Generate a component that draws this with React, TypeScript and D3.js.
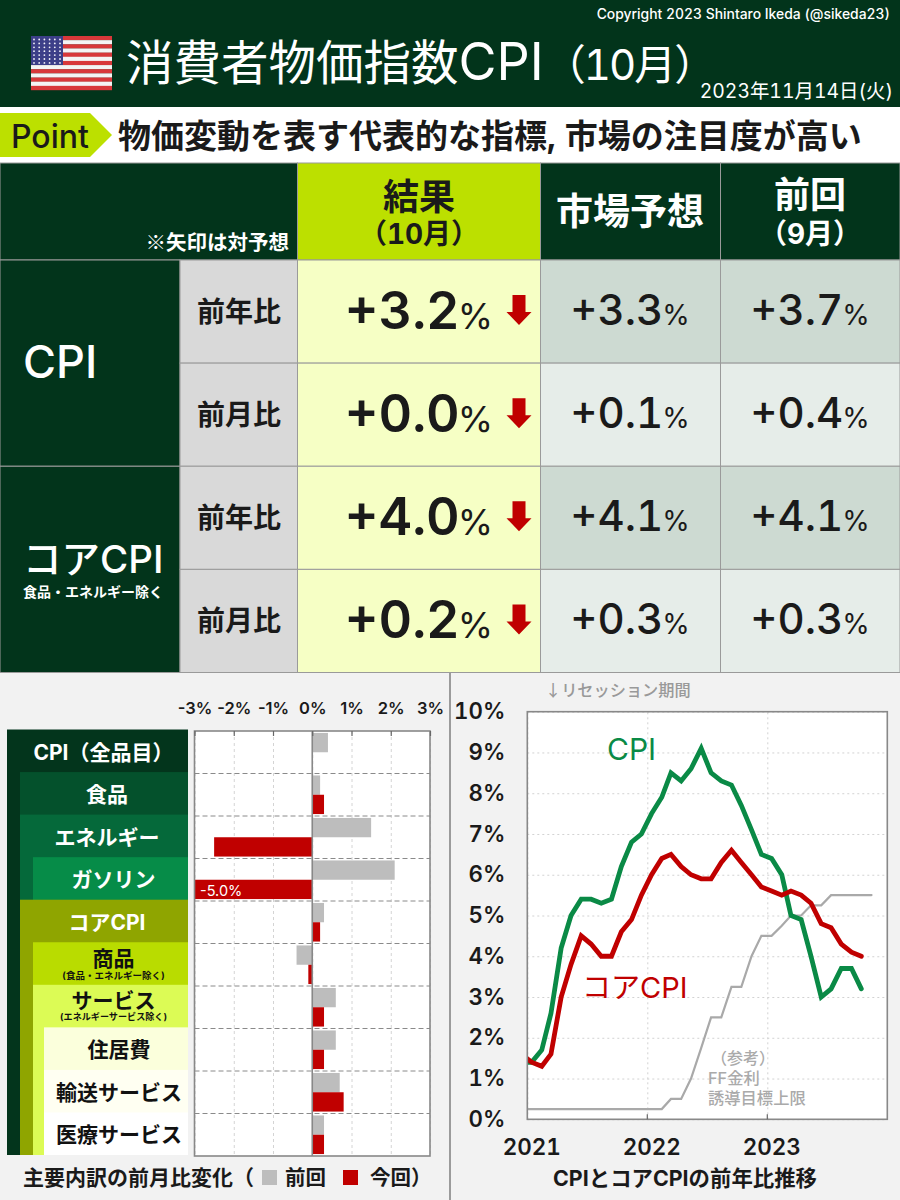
import * as d3 from "d3";
import { useEffect, useRef } from "react";

const FONT = 'Inter, "Noto Sans CJK JP", sans-serif';
const CJK = '"Noto Sans CJK JP", sans-serif';
const DARK = "#02341b";
const INK = "#1a1a1a";

// top table
const groupNames = ["CPI", "コアCPI"];
const metricNames = ["前年比", "前月比", "前年比", "前月比"];
const resultValues = [3.2, 0.0, 4.0, 0.2];
const forecastValues = [3.3, 0.1, 4.1, 0.3];
const previousValues = [3.7, 0.4, 4.1, 0.3];

// breakdown bars
const itemNames = ["CPI（全品目）", "食品", "エネルギー", "ガソリン", "コアCPI", "商品", "サービス", "住居費", "輸送サービス", "医療サービス"];
const itemNotes = ["", "", "", "", "", "(食品・エネルギー除く)", "(エネルギーサービス除く)", "", "", ""];
const prevChange = [0.4, 0.2, 1.5, 2.1, 0.3, -0.4, 0.6, 0.6, 0.7, 0.3];
const nowChange = [0.0, 0.3, -2.5, -5.0, 0.2, -0.1, 0.3, 0.3, 0.8, 0.3];
const pctTicks = [-3, -2, -1, 0, 1, 2, 3];

const itemFills = ["#03351c", "#04512c", "#05693a", "#068c48", "#8fa500", "#b9dc00", "#dcfb55", "#fbffdc", "#fffff2", "#ffffff"];
const itemLeft = [7, 20, 20, 33, 20, 33, 33, 44, 44, 44];

// monthly series from Dec 2020
const cpiYoY = [1.4, 1.4, 1.7, 2.6, 4.2, 5.0, 5.4, 5.4, 5.3, 5.4, 6.2, 6.8, 7.0, 7.5, 7.9, 8.5, 8.3, 8.6, 9.1, 8.5, 8.3, 8.2, 7.7, 7.1, 6.5, 6.4, 6.0, 5.0, 4.9, 4.0, 3.0, 3.2, 3.7, 3.7, 3.2];
const coreYoY = [1.6, 1.4, 1.3, 1.6, 3.0, 3.8, 4.5, 4.3, 4.0, 4.0, 4.6, 4.9, 5.5, 6.0, 6.4, 6.5, 6.2, 6.0, 5.9, 5.9, 6.3, 6.6, 6.3, 6.0, 5.7, 5.6, 5.5, 5.6, 5.5, 5.3, 4.8, 4.7, 4.3, 4.1, 4.0];
const ffUpper = [0.25, 0.25, 0.25, 0.25, 0.25, 0.25, 0.25, 0.25, 0.25, 0.25, 0.25, 0.25, 0.25, 0.25, 0.25, 0.5, 0.5, 1.0, 1.75, 2.5, 2.5, 3.25, 3.25, 4.0, 4.5, 4.5, 4.75, 5.0, 5.0, 5.25, 5.25, 5.5, 5.5, 5.5, 5.5, 5.5];
const yearTicks = [new Date(2021, 0, 1), new Date(2022, 0, 1), new Date(2023, 0, 1)];

export default function App() {
  const ref = useRef<SVGSVGElement>(null);

  useEffect(() => {
    if (!ref.current) return;
    const svg = d3.select(ref.current);
    svg.selectAll("*").remove();

    const label = (sel: any, x: number, y: number, str: string, size: number, fill: string, weight = 700, anchor = "start") =>
      sel
        .append("text")
        .attr("x", x)
        .attr("y", y)
        .attr("font-size", size)
        .attr("font-weight", weight)
        .attr("fill", fill)
        .attr("text-anchor", anchor)
        .text(str);

    // Header
    svg.append("rect").attr("width", 900).attr("height", 107).attr("fill", DARK);
    svg.append("rect").attr("y", 107).attr("width", 900).attr("height", 56).attr("fill", "#fff");
    label(svg, 890, 19, "Copyright 2023 Shintaro Ikeda (@sikeda23)", 13.9, "#fff", 500, "end");
    const title = label(svg, 126, 80, "消費者物価指数", 47.5, "#fff", 400);
    title.append("tspan").attr("font-size", 52).text("CPI");
    title.append("tspan").attr("font-size", 42).attr("letter-spacing", -2).text("（10月）");
    label(svg, 893, 98, "2023年11月14日(火)", 19.4, "#fff", 400, "end");

    // Flag
    const flag = svg.append("g");
    const stripe = d3.scaleBand<number>().domain(d3.range(13)).range([36, 90]);
    flag
      .selectAll("rect")
      .data(d3.range(13))
      .join("rect")
      .attr("x", 31)
      .attr("y", d => stripe(d)!)
      .attr("width", 81)
      .attr("height", stripe.bandwidth() + 0.2)
      .attr("fill", d => (d % 2 === 0 ? "#d8383a" : "#f4f4f4"));
    flag.append("rect").attr("x", 31).attr("y", 36).attr("width", 32).attr("height", 29).attr("fill", "#3c3f88");
    flag
      .selectAll("circle")
      .data(d3.cross(d3.range(7), d3.range(6)))
      .join("circle")
      .attr("cx", d => 34 + d[1] * 5.2)
      .attr("cy", d => 39.5 + d[0] * 3.9)
      .attr("r", 0.9)
      .attr("fill", "#f2f2f8");

    // Point strip
    svg.append("polygon").attr("points", "0,113 90,113 112,135 90,157 0,157").attr("fill", "#bce000");
    label(svg, 11, 148, "Point", 32, INK, 500);
    label(svg, 118, 148, "物価変動を表す代表的な指標, 市場の注目度が高い", 33, INK, 700);

    // Table
    const colX = [0, 180, 297.5, 540.5, 720.5, 900];
    const rowY = d3.scaleBand<number>().domain(d3.range(4)).range([260, 672.5]);
    const bw = rowY.bandwidth();
    const lineC = "#9a9a9a";
    const cell = (x0: number, y0: number, x1: number, y1: number, fill: string) =>
      svg
        .append("rect")
        .attr("x", x0)
        .attr("y", y0)
        .attr("width", x1 - x0)
        .attr("height", y1 - y0)
        .attr("fill", fill)
        .attr("stroke", lineC)
        .attr("stroke-width", 1);

    cell(0, 163, colX[2], 260, DARK);
    cell(colX[2], 163, colX[3], 260, "#bce000");
    cell(colX[3], 163, colX[4], 260, DARK);
    cell(colX[4], 163, colX[5], 260, DARK);
    label(svg, 289, 250, "※矢印は対予想", 20.5, "#fff", 700, "end").attr("font-family", CJK);
    label(svg, 419, 210, "結果", 36, INK, 700, "middle");
    label(svg, 419, 244, "（10月）", 28, INK, 700, "middle");
    label(svg, 630, 225, "市場予想", 37, "#fff", 700, "middle");
    label(svg, 810, 208, "前回", 36, "#fff", 700, "middle");
    label(svg, 810, 244, "（9月）", 28, "#fff", 700, "middle");

    groupNames.forEach((_, i) => {
      cell(0, rowY(i * 2)!, colX[1], rowY(i * 2)! + bw * 2, DARK);
    });
    label(svg, 23, 378, groupNames[0], 45, "#fff", 500);
    label(svg, 23, 573, groupNames[1], 38.5, "#fff", 500);
    label(svg, 23, 597, "食品・エネルギー除く", 14, "#fff", 700);

    const fmt = d3.format("+.1f");
    const value = (cx: number, y: number, v: number, big: number, small: number, weight: number, gap: number) => {
      const t = svg
        .append("text")
        .attr("x", cx)
        .attr("y", y)
        .attr("fill", INK)
        .attr("text-anchor", "middle")
        .attr("font-size", big)
        .attr("font-weight", weight)
        .text(fmt(v));
      t.append("tspan").attr("font-size", small).attr("font-weight", 400).attr("dx", gap).text("%");
    };

    metricNames.forEach((m, i) => {
      const y = rowY(i)!;
      const shade = i % 2 === 0 ? "#cddad2" : "#e6ede9";
      cell(colX[1], y, colX[2], y + bw, "#d9d9d9");
      cell(colX[2], y, colX[3], y + bw, "#f6ffc5");
      cell(colX[3], y, colX[4], y + bw, shade);
      cell(colX[4], y, colX[5], y + bw, shade);
      label(svg, 239, y + 62, m, 28, INK, 700, "middle");
      value(419, y + 69, resultValues[i], 52, 36, 600, -2);
      value(630, y + 65, forecastValues[i], 42, 28, 500, -1);
      value(810, y + 65, previousValues[i], 42, 28, 500, -1);
      if (resultValues[i] < forecastValues[i]) {
        svg
          .append("path")
          .attr("transform", `translate(519,${y + 35})`)
          .attr("d", "M-6.5,0H6.5V17H12.5L0,30L-12.5,17H-6.5Z")
          .attr("fill", "#c00000");
      }
    });

    // Bottom panels
    svg.append("rect").attr("y", 673).attr("width", 900).attr("height", 527).attr("fill", "#f2f2f2");
    svg.append("line").attr("x1", 450).attr("x2", 450).attr("y1", 673).attr("y2", 1200).attr("stroke", "#444").attr("stroke-width", 1);

    // Breakdown label blocks
    const blockY = d3.scaleBand<number>().domain(d3.range(10)).range([729.5, 1155]);
    svg
      .append("g")
      .selectAll("rect")
      .data(itemNames.map((_, i) => i))
      .join("rect")
      .attr("x", i => itemLeft[i])
      .attr("y", i => blockY(i)!)
      .attr("width", i => 188 - itemLeft[i])
      .attr("height", i => 1155 - blockY(i)!)
      .attr("fill", i => itemFills[i]);
    itemNames.forEach((name, i) => {
      const cx = (itemLeft[i] + 188) / 2 + (i === 0 ? 6 : 3);
      const y = blockY(i)!;
      const color = i < 5 ? "#fff" : "#111";
      const note = itemNotes[i];
      label(svg, cx, y + (note ? (i === 6 ? 23 : 24) : 30), name, 21, color, 700, "middle");
      if (note) label(svg, cx, y + (i === 6 ? 35 : 37), note, i === 6 ? 9.1 : 9.5, color, 700, "middle");
    });

    // Breakdown bars
    const bx = d3.scaleLinear().domain([-3, 3]).range([194.5, 430]).clamp(true);
    const by = d3.scaleBand<number>().domain(d3.range(10)).range([731, 1156]);
    const inner = d3.scaleBand<string>().domain(["prev", "now"]).range([0, by.bandwidth()]).paddingOuter(0.1).paddingInner(0);

    const barPlot = svg.append("g");
    barPlot.append("rect").attr("x", 194.5).attr("y", 731).attr("width", 235.5).attr("height", 425).attr("fill", "#fff");
    barPlot
      .append("g")
      .attr("transform", "translate(0,731)")
      .call(d3.axisTop(bx).tickValues(pctTicks).tickSize(-425).tickFormat(() => "") as any)
      .call(g => g.select(".domain").remove())
      .call(g => g.selectAll("line").attr("stroke", "#d4d4d4").attr("stroke-dasharray", "3 3"));
    barPlot
      .append("g")
      .selectAll("line")
      .data(d3.range(1, 10))
      .join("line")
      .attr("x1", 194.5)
      .attr("x2", 430)
      .attr("y1", d => by(d)!)
      .attr("y2", d => by(d)!)
      .attr("stroke", "#8a8a8a")
      .attr("stroke-width", 1)
      .attr("stroke-dasharray", "5 3");
    barPlot
      .append("g")
      .selectAll("rect")
      .data(prevChange)
      .join("rect")
      .attr("x", d => bx(Math.min(0, d)))
      .attr("y", (_, i) => by(i)! + inner("prev")!)
      .attr("width", d => Math.abs(bx(d) - bx(0)))
      .attr("height", inner.bandwidth())
      .attr("fill", "#bdbdbd");
    barPlot
      .append("g")
      .selectAll("rect")
      .data(nowChange)
      .join("rect")
      .attr("x", d => bx(Math.min(0, d)))
      .attr("y", (_, i) => by(i)! + inner("now")!)
      .attr("width", d => Math.abs(bx(d) - bx(0)))
      .attr("height", inner.bandwidth())
      .attr("fill", "#c00000");
    label(svg, 200, by(3)! + 37, `${nowChange[3].toFixed(1)}%`, 14.5, "#fff", 400).style("font-variant-numeric", "normal");
    barPlot.append("rect").attr("x", 194.5).attr("y", 731).attr("width", 235.5).attr("height", 425).attr("fill", "none").attr("stroke", "#888").attr("stroke-width", 1.6);
    barPlot.append("line").attr("x1", bx(0)).attr("x2", bx(0)).attr("y1", 731).attr("y2", 1156).attr("stroke", "#888").attr("stroke-width", 1.6);

    svg
      .append("g")
      .attr("transform", "translate(0,731)")
      .call(d3.axisTop(bx).tickValues(pctTicks).tickSize(5).tickPadding(12).tickFormat(d => `${d}%`) as any)
      .call(g => g.select(".domain").remove())
      .call(g => g.selectAll("line").attr("y2", 5).attr("stroke", "#666").attr("stroke-width", 1.2))
      .call(g => g.selectAll("text").attr("font-family", FONT).attr("font-size", 16.5).attr("font-weight", 600).attr("fill", INK).style("font-variant-numeric", "normal"));

    label(svg, 23, 1185, "主要内訳の前月比変化（", 21, INK, 700);
    svg.append("rect").attr("x", 262).attr("y", 1170).attr("width", 15).attr("height", 15).attr("fill", "#bdbdbd");
    label(svg, 285, 1185, "前回", 20.5, INK, 700);
    svg.append("rect").attr("x", 343).attr("y", 1170).attr("width", 15).attr("height", 15).attr("fill", "#c00000");
    label(svg, 370, 1185, "今回）", 20.5, INK, 700);

    // Line chart
    const left = 527.3;
    const right = 887.3;
    const top = 711.7;
    const bottom = 1119.3;
    const months = d3.timeMonth.range(new Date(2020, 11, 1), new Date(2023, 11, 1));
    const mid = (i: number) => d3.timeDay.offset(months[i], 13);
    const tx = d3.scaleTime().domain([new Date(2021, 0, 1), new Date(2024, 0, 1)]).range([left, right]);
    const ty = d3.scaleLinear().domain([0, 10]).range([bottom, top]);
    const yTicks = d3.range(0, 11);

    const plot = svg.append("g");
    plot.append("rect").attr("x", left).attr("y", top).attr("width", right - left).attr("height", bottom - top).attr("fill", "#fff");
    plot
      .append("g")
      .attr("transform", `translate(${left},0)`)
      .call(d3.axisLeft(ty).tickValues(yTicks).tickSize(-(right - left)).tickFormat(() => "") as any)
      .call(g => g.select(".domain").remove())
      .call(g => g.selectAll("line").attr("stroke", "#d2d2d2").attr("stroke-dasharray", "2 3"));
    plot
      .append("g")
      .attr("transform", `translate(0,${bottom})`)
      .call(d3.axisBottom(tx).tickValues(yearTicks).tickSize(-(bottom - top)).tickFormat(() => "") as any)
      .call(g => g.select(".domain").remove())
      .call(g => g.selectAll("line").attr("stroke", "#d2d2d2").attr("stroke-dasharray", "2 3"));

    svg.append("clipPath").attr("id", "line-clip").append("rect").attr("x", left).attr("y", top).attr("width", right - left).attr("height", bottom - top);
    const line = d3
      .line<number>()
      .x((_, i) => tx(mid(i)))
      .y(d => ty(d));
    const series: [number[], string, number][] = [
      [ffUpper, "#a9a9a9", 2.2],
      [cpiYoY, "#0a8a46", 4.8],
      [coreYoY, "#c00000", 4.8],
    ];
    const lines = plot.append("g").attr("clip-path", "url(#line-clip)");
    series.forEach(([vals, color, width]) => {
      lines
        .append("path")
        .attr("d", line(vals))
        .attr("fill", "none")
        .attr("stroke", color)
        .attr("stroke-width", width)
        .attr("stroke-linejoin", "miter")
        .attr("stroke-linecap", "round");
    });

    plot.append("rect").attr("x", left).attr("y", top).attr("width", right - left).attr("height", bottom - top).attr("fill", "none").attr("stroke", "#888").attr("stroke-width", 1.6);
    plot
      .append("g")
      .selectAll("line")
      .data(yearTicks.slice(1))
      .join("line")
      .attr("x1", d => tx(d))
      .attr("x2", d => tx(d))
      .attr("y1", bottom - 5)
      .attr("y2", bottom)
      .attr("stroke", "#666")
      .attr("stroke-width", 1.2);

    svg
      .append("g")
      .attr("transform", `translate(${left},0)`)
      .call(d3.axisLeft(ty).tickValues(yTicks).tickSize(0).tickPadding(22).tickFormat(d => `${d}%`) as any)
      .call(g => g.select(".domain").remove())
      .call(g => g.selectAll("text").attr("font-family", FONT).attr("font-size", 22.3).attr("font-weight", 600).attr("fill", INK));
    svg
      .append("g")
      .attr("transform", `translate(4,${bottom})`)
      .call(d3.axisBottom(tx).tickValues(yearTicks).tickSize(0).tickPadding(20).tickFormat(d => d3.timeFormat("%Y")(d as Date)) as any)
      .call(g => g.select(".domain").remove())
      .call(g => g.selectAll("text").attr("font-family", FONT).attr("font-size", 22.5).attr("font-weight", 600).attr("fill", INK));

    label(svg, 607, 760, "CPI", 30, "#0a8a46", 400);
    label(svg, 582, 998, "コアCPI", 29, "#c00000", 400);
    label(svg, 545, 696, "↓リセッション期間", 16.2, "#999", 500).attr("font-family", CJK);
    label(svg, 711, 1064, "（参考）", 16, "#aaa", 500);
    label(svg, 708, 1084, "FF金利", 16.3, "#aaa", 500);
    label(svg, 708, 1104, "誘導目標上限", 16.3, "#aaa", 500);
    label(svg, 685, 1186, "CPIとコアCPIの前年比推移", 21.4, INK, 700, "middle");
  }, []);

  return (
    <svg
      ref={ref}
      width={900}
      height={1200}
      viewBox='0 0 900 1200'
      fontFamily={FONT}
      style={{ position: "absolute", left: 0, top: 0, display: "block", fontVariantNumeric: "tabular-nums" }}
    />
  );
}
